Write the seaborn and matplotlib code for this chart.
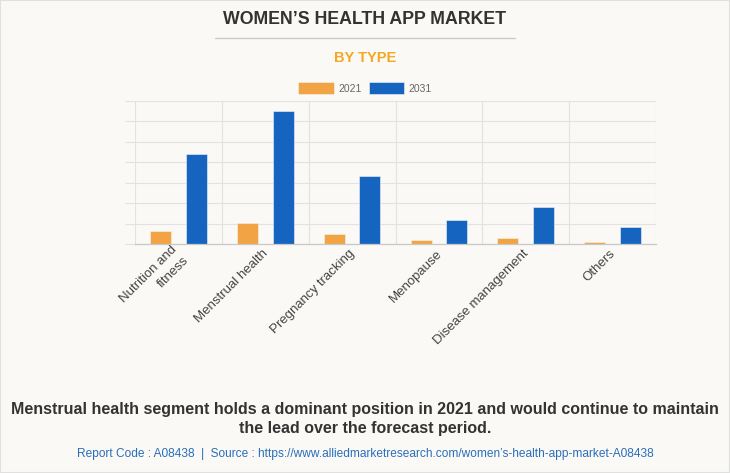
import numpy as np
import matplotlib
matplotlib.use("Agg")
import matplotlib.pyplot as plt
import pandas as pd
import seaborn as sns

# values (no axis labels in the source; units = grid steps)
categories = ["Nutrition and\nfitness", "Menstrual health", "Pregnancy tracking",
              "Menopause", "Disease management", "Others"]
years = ["2021", "2031"]
values_2021 = [0.62, 1.02, 0.49, 0.20, 0.28, 0.12]
values_2031 = [4.40, 6.52, 3.33, 1.19, 1.80, 0.81]
y_ticks = [0, 1, 2, 3, 4, 5, 6, 7]

BG = "#FAF9F5"
colors = ["#F2A444", "#1565C0"]


def main():
    sns.set_theme(style="white")
    plt.rcParams["font.family"] = ["Liberation Sans", "DejaVu Sans"]

    df = pd.DataFrame({
        "category": categories * 2,
        "year": [years[0]] * len(categories) + [years[1]] * len(categories),
        "value": values_2021 + values_2031,
    })

    fig = plt.figure(figsize=(7.3, 4.73), dpi=100, facecolor=BG)
    ax = fig.add_axes([135 / 730, 1 - 244 / 473, (656 - 135) / 730, (244 - 101) / 473])
    ax.set_facecolor(BG)

    sns.barplot(data=df, x="category", y="value", hue="year", order=categories,
                hue_order=years, palette=colors, saturation=1, width=0.82, gap=0.41,
                edgecolor="#f4f4f4", linewidth=0.4, ax=ax)

    ax.set_ylim(0, 7)
    ax.set_xlim(-0.5, len(categories) - 0.5)
    ax.set_yticks(y_ticks)
    ax.set_yticklabels([])
    ax.tick_params(axis="y", length=7, color="#e2e2e2", width=0.8, left=True)
    ax.set_xticks(np.arange(-0.5, len(categories)), minor=True)
    ax.grid(True, axis="y", color="#e2e2e2", linewidth=0.8)
    ax.grid(True, axis="x", which="minor", color="#e2e2e2", linewidth=0.8)
    ax.grid(False, axis="x", which="major")
    ax.tick_params(axis="x", which="both", length=0, pad=5)
    ax.set_axisbelow(True)
    for s in ["top", "right", "left"]:
        ax.spines[s].set_visible(False)
    ax.spines["bottom"].set_color("#c8c8c8")
    ax.spines["bottom"].set_linewidth(0.9)
    ax.set_xlabel("")
    ax.set_ylabel("")
    ax.set_xticks(range(len(categories)))
    ax.set_xticklabels(categories, rotation=45, ha="right", va="center_baseline",
                       rotation_mode="anchor", fontsize=9.5, color="#444444",
                       linespacing=1.45)
    for lab in ax.get_xticklabels():
        lab.set_multialignment("right")

    sns.move_legend(ax, "center", bbox_to_anchor=(0.5, 1 - 88 / 473),
                    bbox_transform=fig.transFigure, ncol=2, frameon=False,
                    title=None, fontsize=7.5, handlelength=3.4, handleheight=1.25,
                    columnspacing=0.7, handletextpad=0.4)
    for t in ax.get_legend().get_texts():
        t.set_color("#666666")

    fig.text(0.5, 1 - 20 / 473, "WOMEN\u2019S HEALTH APP MARKET", ha="center", va="center",
             fontsize=12.8, fontweight="bold", color="#333333")
    fig.add_artist(plt.Line2D([215 / 730, 515 / 730], [1 - 38 / 473] * 2,
                              color="#c8c8c8", linewidth=0.9))
    fig.text(0.5, 1 - 58 / 473, "BY TYPE", ha="center", va="center",
             fontsize=10.5, fontweight="bold", color="#F5A623")

    fig.text(0.5, 1 - 409 / 473,
             "Menstrual health segment holds a dominant position in 2021 and would continue to maintain",
             ha="center", va="center", fontsize=11.5, fontweight="bold", color="#333333")
    fig.text(0.5, 1 - 428 / 473, "the lead over the forecast period.",
             ha="center", va="center", fontsize=11.5, fontweight="bold", color="#333333")
    fig.text(0.5, 1 - 454 / 473,
             "Report Code : A08438  |  Source : https://www.alliedmarketresearch.com/women\u2019s-health-app-market-A08438",
             ha="center", va="center", fontsize=8.6, color="#2a6ebb")

    fig.add_artist(plt.Rectangle((0, 0), 1, 1, transform=fig.transFigure, fill=False,
                                 edgecolor="#e0e0e0", linewidth=1.5))

    fig.savefig("out.png", dpi=100, facecolor=BG)
    plt.close(fig)


if __name__ == "__main__":
    main()
